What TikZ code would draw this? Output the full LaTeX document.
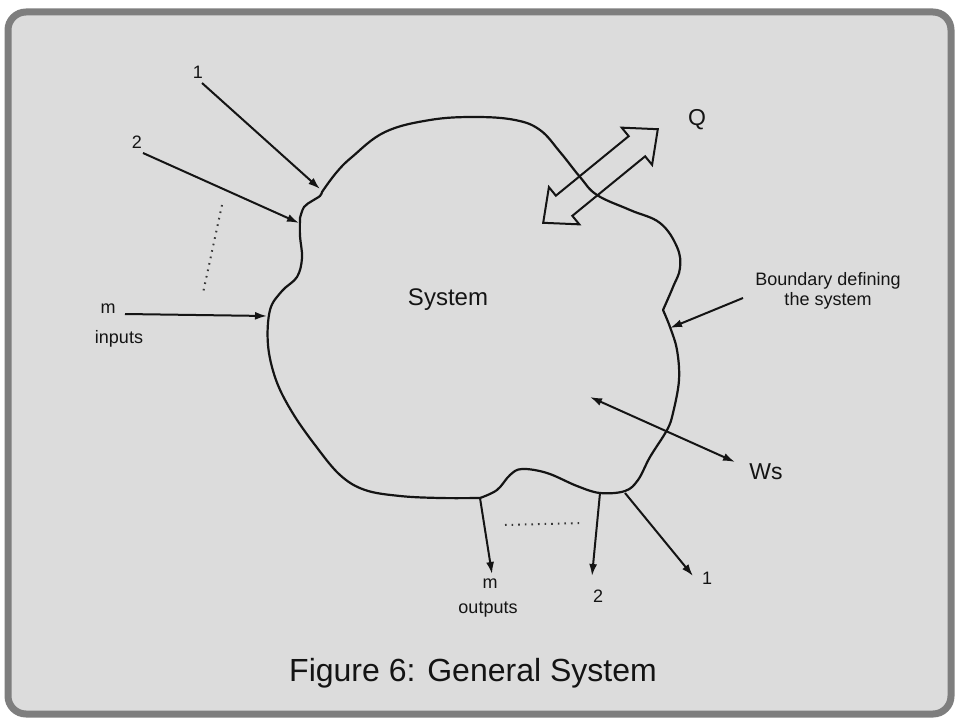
\documentclass[tikz,border=0pt]{standalone}
\usepackage{fontspec}
\setmainfont{Liberation Sans}
\usetikzlibrary{arrows.meta}
\definecolor{panel}{HTML}{DCDCDC}
\definecolor{frame}{HTML}{7E7E7E}
\definecolor{ink}{HTML}{141414}
\begin{document}
\begin{tikzpicture}[x=1pt,y=-1pt,
  bnd/.style={draw=ink, line width=2.2pt, line join=round},
  flow/.style={draw=ink, line width=2pt, -{Latex[length=12pt,width=8pt]}},
  twoway/.style={draw=ink, line width=2pt, {Latex[length=12pt,width=8pt]}-{Latex[length=12pt,width=8pt]}},
  dots/.style={draw=ink!85, line width=2pt, dash pattern=on 1.6pt off 5pt},
  lbl/.style={font=\fontsize{18}{20}\selectfont, text=ink, inner sep=0pt},
  big/.style={font=\fontsize{23}{26}\selectfont, text=ink, inner sep=0pt},
  qarrow/.style={draw=ink, line width=2pt, line join=miter}
]
\useasboundingbox (0,0) rectangle (955,719);
\fill[white] (0,0) rectangle (955,719);
\draw[line width=7pt, draw=frame, fill=panel, rounded corners=18pt] (8,12) rectangle (951,714);

% boundary of the system
\draw[bnd]
  plot[smooth, tension=0.65] coordinates {(322,192) (336,173) (352,157) (385,132) (430,120) (475,117) (515,120) (540,130) (560,152) (580,177) (597,195) (630,210) (660,223) (677,247) (680,268) (673,287) (663,310)}
  -- plot[smooth, tension=0.6] coordinates {(663,310) (670,327) (677,350) (679,380) (673,413) (667,430) (650,457) (638,480) (625,491) (600,493) (577,486) (547,473) (522,469) (510,475) (497,490) (480,498)}
  -- plot[smooth, tension=0.6] coordinates {(480,498) (440,498) (400,496) (365,490) (340,475) (315,445) (292,412) (276,380) (268,345) (270,310) (282,291) (297,277) (302,258) (300,236) (300,218)}
  -- plot[smooth, tension=0.6] coordinates {(300,218) (304,207) (312,201) (320,196) (322,192)}
  -- cycle;

% Q heat double arrow (hollow)
\draw[qarrow] (657.8,129.2) -- (652.1,164.85) -- (645.13,156.32) -- (572.33,215.82) -- (579.3,224.35)
  -- (543.2,222.8) -- (548.9,187.15) -- (555.87,195.68) -- (628.67,136.18) -- (621.7,127.65) -- cycle;
\node[big] (q) at (697,120) {Q};

% labels
\node[font=\fontsize{24}{27}\selectfont, text=ink, inner sep=0pt] (sys) at (448,300) {System};
\node[lbl, align=center] (bdef) at (828,291) {Boundary defining\\the system};
\node[lbl] (in1) at (198,72) {1};
\node[lbl] (in2) at (137,142) {2};
\node[lbl] (inm) at (108,309) {m};
\node[lbl] (inputs) at (119,339) {inputs};
\node[lbl] (outm) at (490,584) {m};
\node[lbl] (outputs) at (488,610) {outputs};
\node[lbl] (out2) at (598,596) {2};
\node[lbl] (out1) at (707,578) {1};
\node[big] (ws) at (766,472) {Ws};
\node[font=\fontsize{32}{38}\selectfont, text=ink, inner sep=0pt] (cap) at (473,673) {Figure 6: General System};

% arrow end points
\coordinate (a1s) at (202,83);  \coordinate (a1e) at (320,189);
\coordinate (a2s) at (143,153); \coordinate (a2e) at (299,223);
\coordinate (ams) at (125,314); \coordinate (ame) at (267,316);
\coordinate (o1s) at (625,493); \coordinate (o1e) at (693,576);
\coordinate (o2s) at (600,493); \coordinate (o2e) at (592,576);
\coordinate (oms) at (480,498); \coordinate (ome) at (492,574);
\coordinate (bs) at (743,298);  \coordinate (be) at (670,328);
\coordinate (w1) at (590,397);  \coordinate (w2) at (735,462);
\coordinate (d1s) at (222,205); \coordinate (d1e) at (203,293);
\coordinate (d2s) at (505,525); \coordinate (d2e) at (582,523);

\draw[flow] (a1s) -- (a1e);
\draw[flow] (a2s) -- (a2e);
\draw[flow] (ams) -- (ame);
\draw[flow] (o1s) -- (o1e);
\draw[flow] (o2s) -- (o2e);
\draw[flow] (oms) -- (ome);
\draw[flow] (bs) -- (be);
\draw[twoway] (w1) -- (w2);
\draw[dots] (d1s) -- (d1e);
\draw[dots] (d2s) -- (d2e);
\end{tikzpicture}
\end{document}
